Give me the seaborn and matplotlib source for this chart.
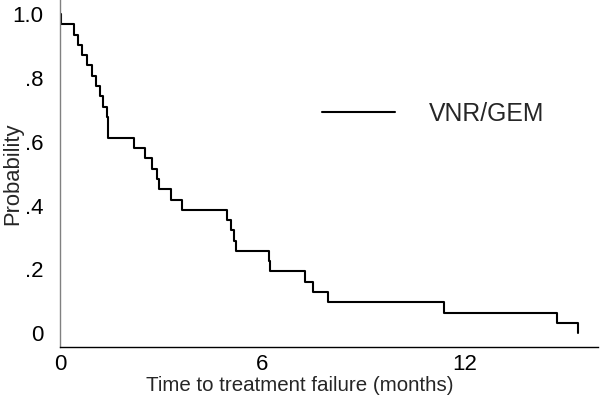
import matplotlib
matplotlib.use("Agg")
import matplotlib.pyplot as plt
import seaborn as sns

# Kaplan-Meier style curve (time in months, probability)
times = [0.0, 0.02, 0.42, 0.54, 0.66, 0.81, 0.94, 1.06, 1.19, 1.28, 1.39, 1.43,
         2.20, 2.52, 2.72, 2.87, 2.95, 3.29, 3.63, 4.96, 5.06, 5.16, 5.22,
         6.20, 6.23, 7.27, 7.50, 7.96, 11.39, 14.74, 15.38]
surv = [1.0, .968, .935, .903, .871, .839, .806, .774, .742, .710, .677, .613,
        .581, .548, .516, .484, .452, .419, .387, .355, .323, .290, .258,
        .226, .194, .161, .129, .097, .065, .032, 0.0]

x_ticks = [0, 6, 12]
y_ticks = [0, .2, .4, .6, .8, 1.0]
y_tick_labels = ["0", ".2", ".4", ".6", ".8", "1.0"]
series_label = "VNR/GEM"

sns.set_style("white")
plt.rcParams["font.family"] = ["Liberation Sans", "DejaVu Sans"]

fig = plt.figure(figsize=(6, 4.08), dpi=100)
ax = fig.add_axes([60 / 600, 1 - 346.7 / 408, 538 / 600, 346.7 / 408])

sns.lineplot(x=times, y=surv, drawstyle="steps-post", estimator=None,
             color="black", linewidth=1.5, label=series_label, ax=ax)

ax.set_xlim(0, 15.96)
ax.set_ylim(-0.042, 1.044)
ax.set_xticks(x_ticks)
ax.set_yticks(y_ticks)
ax.set_yticklabels(y_tick_labels)

for side in ("top", "right"):
    ax.spines[side].set_visible(False)
ax.spines["left"].set_color("#808080")
ax.spines["bottom"].set_color("black")
ax.spines["left"].set_linewidth(1.0)
ax.spines["bottom"].set_linewidth(1.0)

ax.tick_params(axis="y", direction="out", length=6, width=1.0, color="#808080",
               labelsize=16, pad=6, labelcolor="black")
ax.tick_params(axis="x", direction="out", length=5, width=1.0, color="black",
               labelsize=16, pad=0.5, labelcolor="black")

ax.set_xlabel("Time to treatment failure (months)", fontsize=14.8)
ax.set_ylabel("Probability", fontsize=15.8)
# the reference centres the x title on the figure, not on the axes
ax.xaxis.set_label_coords(240 / 538, -0.084)
ax.yaxis.set_label_coords(-0.068, 0.5)

leg = ax.legend(loc="center left", bbox_to_anchor=(321.7 / 600, 1 - 114 / 408),
                bbox_transform=fig.transFigure, frameon=False, fontsize=17.8,
                handlelength=2.95, handletextpad=1.4, borderpad=0, borderaxespad=0)
for line in leg.get_lines():
    line.set_linewidth(1.5)

fig.savefig("out.png", dpi=100)
